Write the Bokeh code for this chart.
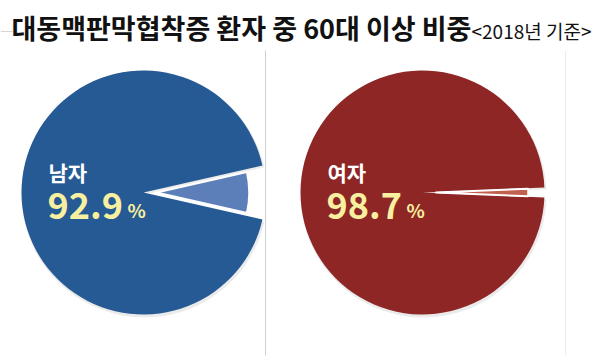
import numpy as np
from bokeh.plotting import figure
from bokeh.models import Range1d
from bokeh.core.properties import value
from bokeh.embed import file_html
from bokeh.resources import INLINE

# ---- data ----
title_main = "대동맥판막협착증 환자 중 60대 이상 비중"
title_sub = "<2018년 기준>"
groups = ["남자", "여자"]
share_60plus = [92.9, 98.7]          # % of patients aged 60+
main_colors = ["#255a94", "#8e2626"]
slice_colors = ["#5c7fb9", "#c25f4f"]
num_color = "#f8f0a0"

# ---- layout (pixel space) ----
W, H = 600, 360
FONT = "Noto Sans CJK KR"
p = figure(width=W, height=H, x_range=Range1d(0, W), y_range=Range1d(0, H),
           output_backend="svg", toolbar_location=None, min_border=0)
p.axis.visible = False
p.grid.visible = False
p.outline_line_color = None
p.background_fill_color = "white"
p.border_fill_color = "white"


def Y(py):
    return H - py


# separators
p.segment(x0=[265, 565], y0=[Y(50), Y(50)], x1=[265, 565], y1=[Y(355), Y(355)],
          line_color=["#cfcfcf", "#ececec"], line_width=1)
p.segment(x0=[0], y0=[Y(31)], x1=[12], y1=[Y(31)], line_color="#d5d5d5", line_width=1)

centers_x = [143, 422]
cy = Y(192)
R = 122

for i, g in enumerate(groups):
    share = share_60plus[i]
    gap = (100 - share) / 100 * 2 * np.pi
    cx = centers_x[i]
    # soft shadow
    p.wedge(x=[cx + 1], y=[cy - 2], radius=R + 1, start_angle=gap / 2, end_angle=2 * np.pi - gap / 2,
            fill_color="#000000", fill_alpha=0.08, line_color=None)
    # main part
    p.wedge(x=[cx], y=[cy], radius=R, start_angle=gap / 2, end_angle=2 * np.pi - gap / 2,
            fill_color=main_colors[i], line_color=None)
    # exploded slice
    p.wedge(x=[cx + 13], y=[cy], radius=R * 0.76, start_angle=-gap / 2, end_angle=gap / 2,
            fill_color=slice_colors[i], line_color="white", line_width=2)

    # labels
    tx = cx - 95
    p.text(x=[tx], y=[Y(171)], text=[g], text_font=value(FONT), text_font_size="21px",
           text_font_style="bold", text_color="white", text_baseline="middle")
    num = f"{share:.1f}"
    p.text(x=[tx - 1], y=[Y(205)], text=[num], text_font=value(FONT), text_font_size="36px",
           text_font_style="bold", text_color=num_color, text_baseline="middle")
    p.text(x=[tx + 79], y=[Y(209)], text=["%"], text_font=value(FONT), text_font_size="19px",
           text_font_style="bold", text_color=num_color, text_baseline="middle")

# title
p.text(x=[11], y=[Y(27)], text=[title_main], text_font=value(FONT), text_font_size="27px",
       text_font_style="bold", text_color="#111111", text_baseline="middle")
p.text(x=[471], y=[Y(30)], text=[title_sub], text_font=value(FONT), text_font_size="19px",
       text_color="#111111", text_baseline="middle")

open("out.html", "w").write(file_html(p, INLINE))
